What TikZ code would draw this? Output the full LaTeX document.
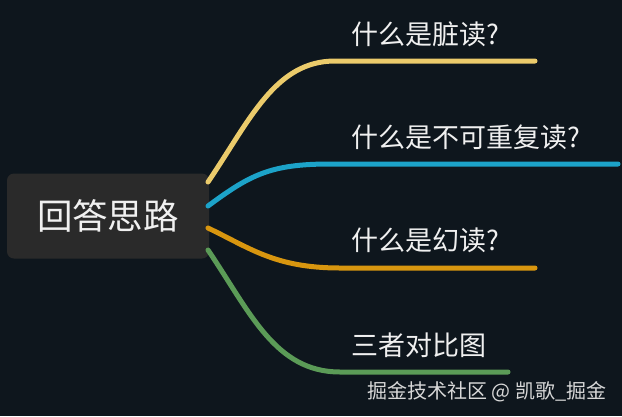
\documentclass[tikz,border=0pt]{standalone}
\usepackage{fontspec}
\setmainfont{Noto Sans CJK SC}
\newfontfamily\cjk{Noto Sans CJK SC}
\definecolor{bgc}{HTML}{0E161D}
\definecolor{boxc}{HTML}{2A2A2A}
\definecolor{txtc}{HTML}{F0F0F0}
\definecolor{wmc}{HTML}{D8D8D8}
\definecolor{yel}{HTML}{EBCB6B}
\definecolor{blu}{HTML}{1CA3C9}
\definecolor{ora}{HTML}{D8960F}
\definecolor{gre}{HTML}{5B9B57}
\begin{document}
\begin{tikzpicture}[x=1pt,y=-1pt,
  branch/.style={line width=5pt,line cap=round},
  lbl/.style={anchor=west,inner sep=0pt,text=txtc,font=\cjk\fontsize{27}{30}\selectfont},
  rootbox/.style={fill=boxc,rounded corners=7pt,minimum width=202pt,minimum height=85pt,inner sep=0pt,text=txtc,font=\cjk\fontsize{35.5}{40}\selectfont}]
\fill[bgc] (0,0) rectangle (622,416);
\useasboundingbox (0,0) rectangle (622,416);
\node[rootbox] (root) at (108,216) {回答思路};
\coordinate (ya) at (208,182);
\coordinate (ba) at (208,206);
\coordinate (oa) at (208,228);
\coordinate (ga) at (208,250);
\coordinate (ye) at (535,61);
\coordinate (be) at (618,164);
\coordinate (oe) at (535,268);
\coordinate (ge) at (508,372);
\draw[branch,yel] (ya) .. controls (250,120) and (275,61) .. (335,61) -- (ye);
\draw[branch,blu] (ba) .. controls (250,175) and (270,164) .. (330,164) -- (be);
\draw[branch,ora] (oa) .. controls (250,248) and (275,268) .. (340,268) -- (oe);
\draw[branch,gre] (ga) .. controls (250,312) and (275,372) .. (340,372) -- (ge);
\node[lbl] (l1) at (351,34) {什么是脏读?};
\node[lbl] (l2) at (351,137) {什么是不可重复读?};
\node[lbl] (l3) at (351,240) {什么是幻读?};
\node[lbl] (l4) at (351,345) {三者对比图};
\node[anchor=west,inner sep=0pt,text=wmc,font=\cjk\fontsize{20}{23}\selectfont] (wm) at (367,392) {掘金技术社区 @ 凯歌\_掘金};
\end{tikzpicture}
\end{document}
